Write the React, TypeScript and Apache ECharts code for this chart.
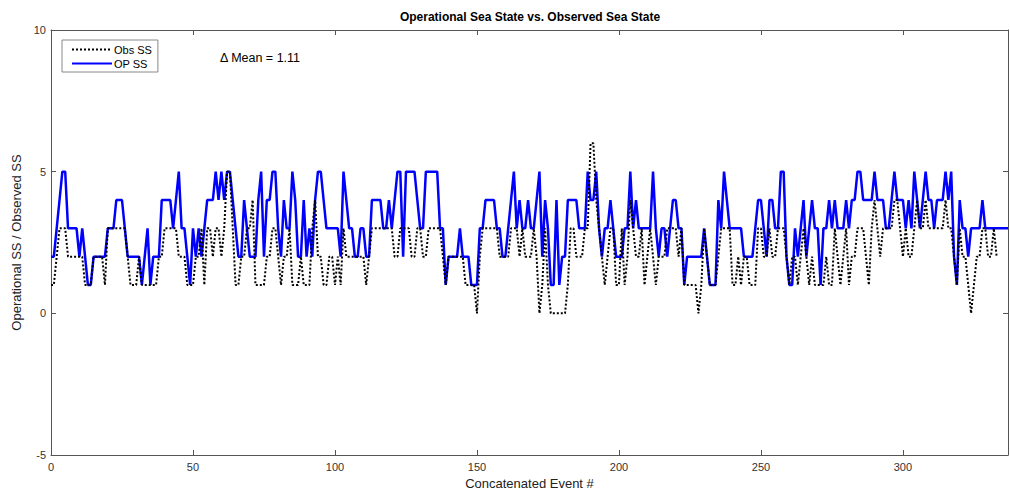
import React, { useEffect, useRef } from "react";
import * as echarts from "echarts";

const chartTitle = "Operational Sea State vs. Observed Sea State";
const xName = "Concatenated Event #";
const yName = "Operational SS / Observed SS";
const seriesNames = ["Obs SS", "OP SS"];
const meanText = "\u0394 Mean = 1.11";
const xTicks = [0, 50, 100, 150, 200, 250, 300];
const yTicks = [-5, 0, 5, 10];

// Operational sea state (index 0..337)
const opSS = [
  2,2,3,4,5,5,3,3,3,3,2,3,2,1,1,2,2,2,2,2,3,3,3,4,4,4,3,2,2,2,2,2,1,
  2,3,1,2,2,2,4,4,4,4,3,4,5,3,3,2,1,3,2,3,2,3,4,4,4,5,4,5,4,5,5,4,3,2,2,
  4,3,2,2,2,4,5,2,4,4,5,5,3,2,4,3,3,5,4,2,2,4,2,3,2,4,5,5,4,3,3,3,3,
  3,2,5,4,3,3,2,2,3,3,2,2,4,4,4,4,3,3,4,3,4,5,5,2,5,5,5,5,4,3,3,5,5,5,
  5,5,3,3,1,2,2,2,2,3,2,2,2,1,1,1,3,3,4,4,4,4,3,3,2,2,3,4,5,3,4,3,3,4,3,
  3,4,5,2,4,3,1,1,4,1,2,2,4,4,4,4,3,3,3,5,4,4,5,3,2,3,3,4,3,2,2,2,3,3,
  5,3,4,3,3,3,3,3,5,3,2,3,3,2,3,4,4,3,3,1,2,2,2,2,2,2,3,2,1,1,1,4,3,
  5,4,3,3,3,3,3,2,2,2,2,3,4,4,3,2,4,4,3,3,5,5,2,1,1,3,2,3,4,2,3,4,3,
  3,1,3,3,4,3,4,3,3,3,4,3,4,4,5,5,4,4,4,4,5,4,4,4,3,3,4,5,4,4,4,3,4,
  3,5,4,3,4,5,4,4,3,4,4,4,5,4,5,2,1,4,3,3,2,3,3,3,3,4,3,3,3,3,3,3,3,3,3,
];

// Observed sea state (index 0..333)
const obsSS = [
  1,1,2,3,3,3,2,2,2,2,2,2,1,1,1,2,2,2,2,1,3,3,3,3,3,3,3,2,1,1,1,2,1,
  1,1,1,1,1,2,2,3,3,3,3,3,2,2,2,1,1,1,2,2,3,1,3,3,2,3,3,2,3,5,5,3,1,1,2,
  2,3,3,4,1,1,1,1,2,2,3,3,2,1,2,2,3,1,1,1,2,1,1,1,3,4,2,2,1,1,2,2,1,
  2,1,3,2,2,2,2,2,2,2,1,2,3,3,3,3,3,3,3,3,2,2,3,3,3,3,2,2,3,3,2,2,3,3,
  3,3,3,2,1,2,2,2,2,2,2,1,1,1,1,0,2,3,3,3,3,3,3,2,2,2,2,3,3,3,2,3,2,
  2,2,3,2,0,1,3,1,0,0,0,0,0,0,1,3,3,2,2,2,3,3,6,6,4,3,2,1,2,3,3,1,1,3,1,2,
  4,3,2,2,3,1,2,3,2,1,2,2,2,3,3,3,3,2,3,1,1,1,1,1,0,1,3,2,1,1,1,2,3,
  3,3,3,1,1,2,1,2,2,1,1,1,3,3,2,2,3,2,2,3,3,3,2,1,2,2,1,2,3,2,1,2,1,
  1,1,1,2,1,1,3,2,1,2,3,1,2,2,3,3,3,2,1,3,4,3,2,3,3,3,3,4,4,3,2,3,2,
  2,3,4,3,3,4,3,3,3,3,3,3,4,3,3,2,1,3,2,2,1,0,1,2,2,3,3,2,2,3,2,
];

const FONT = "'Liberation Sans', Arial, Helvetica, sans-serif";
const AXIS_COLOR = "#555";

export default function App() {
  const ref = useRef<HTMLDivElement>(null);

  useEffect(() => {
    if (!ref.current) return;
    const chart = echarts.init(ref.current, null, { renderer: "svg" });
    const xMin = xTicks[0];
    const xMax = opSS.length - 1;
    const xInt = xTicks[1] - xTicks[0];
    const yMin = yTicks[0];
    const yMax = yTicks[yTicks.length - 1];
    const yInt = yTicks[1] - yTicks[0];

    const axisCommon = {
      axisLine: { show: true, onZero: false, lineStyle: { color: AXIS_COLOR, width: 1 } },
      axisTick: { show: true, inside: true, length: 5, lineStyle: { color: AXIS_COLOR } },
      splitLine: { show: false },
    };

    chart.setOption({
      animation: false,
      backgroundColor: "#ffffff",
      textStyle: { fontFamily: FONT },
      grid: { left: 51, right: 2, top: 30, bottom: 38, containLabel: false },
      legend: {
        data: seriesNames,
        orient: "vertical",
        left: 62,
        top: 40,
        padding: [4, 6, 3, 9],
        itemGap: 3,
        itemWidth: 40,
        itemHeight: 12,
        backgroundColor: "#ffffff",
        borderColor: "#888",
        borderWidth: 1,
        borderRadius: 0,
        itemStyle: { opacity: 0 },
        textStyle: { fontFamily: FONT, fontSize: 11, color: "#000", padding: [0, 0, 0, -3] },
      },
      xAxis: [
        {
          type: "value",
          min: xMin,
          max: xMax,
          interval: xInt,
          position: "bottom",
          name: xName,
          nameLocation: "middle",
          nameGap: 22,
          nameTextStyle: { fontFamily: FONT, fontSize: 13, color: "#222" },
          axisLabel: { show: true, margin: 6, fontFamily: FONT, fontSize: 11, color: "#333", showMaxLabel: false },
          ...axisCommon,
        },
        {
          type: "value",
          min: xMin,
          max: xMax,
          interval: xInt,
          position: "top",
          axisLabel: { show: false },
          ...axisCommon,
        },
      ],
      yAxis: [
        {
          type: "value",
          min: yMin,
          max: yMax,
          interval: yInt,
          position: "left",
          name: yName,
          nameLocation: "middle",
          nameGap: 26,
          nameTextStyle: { fontFamily: FONT, fontSize: 13, color: "#222" },
          axisLabel: { show: true, margin: 5, fontFamily: FONT, fontSize: 11, color: "#333" },
          ...axisCommon,
        },
        {
          type: "value",
          min: yMin,
          max: yMax,
          interval: yInt,
          position: "right",
          axisLabel: { show: false },
          ...axisCommon,
        },
      ],
      graphic: [
        {
          type: "text",
          x: 530,
          y: 17,
          style: {
            text: chartTitle,
            font: `bold 12px ${FONT}`,
            fill: "#000",
            textAlign: "center",
            textVerticalAlign: "middle",
          },
        },
        {
          type: "text",
          x: 220,
          y: 58,
          style: {
            text: meanText,
            font: `12.5px ${FONT}`,
            fill: "#000",
            textAlign: "left",
            textVerticalAlign: "middle",
          },
        },
      ],
      series: [
        {
          name: seriesNames[1],
          type: "line",
          data: opSS.map((v, i) => [i, v]),
          showSymbol: false,
          symbol: "none",
          lineStyle: { color: "#0000ff", width: 2.5 },
          itemStyle: { color: "#0000ff" },
          z: 2,
        },
        {
          name: seriesNames[0],
          type: "line",
          data: obsSS.map((v, i) => [i, v]),
          showSymbol: false,
          symbol: "none",
          lineStyle: { color: "#000000", width: 2, type: [2, 2] },
          itemStyle: { color: "#000000" },
          z: 3,
        },
      ],
    });

    return () => chart.dispose();
  }, []);

  return (
    <div
      ref={ref}
      style={{ position: "absolute", left: 0, top: 0, width: 1010, height: 495, background: "#fff" }}
    />
  );
}
